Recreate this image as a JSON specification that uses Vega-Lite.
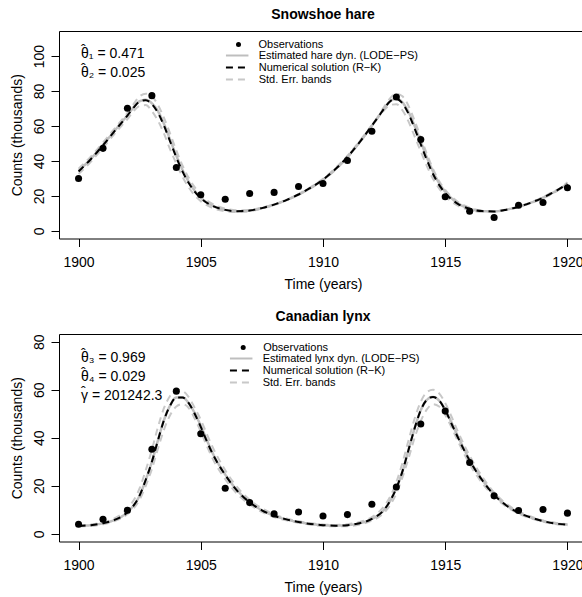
{
  "$schema": "https://vega.github.io/schema/vega-lite/v6.json",
  "padding": {"left": 9, "top": 7, "right": 0, "bottom": 0},
  "spacing": 95,
  "bounds": "flush",
  "config": {
    "font": "Liberation Sans",
    "view": {"stroke": "black", "strokeWidth": 1},
    "axis": {"domain": false, "grid": false, "tickColor": "black", "tickSize": 8, "labelColor": "black", "labelFontSize": 14, "titleFontSize": 14, "titleFontWeight": "normal", "titleColor": "black", "labelFlush": false, "labelOverlap": false},
    "axisX": {"labelBaseline": "middle", "labelPadding": 16, "titleBaseline": "middle", "titleY": 46},
    "axisY": {"labelAngle": 270, "labelAlign": "center", "labelBaseline": "middle", "labelPadding": 12, "titleAngle": 270, "titleBaseline": "middle", "titleX": -42},
    "title": {"fontSize": 14, "fontWeight": "bold", "color": "black", "frame": "group", "anchor": "middle", "offset": 9.5},
    "legend": {"orient": "none", "title": null, "labelFontSize": 11, "labelColor": "black", "labelLimit": 400, "rowPadding": 0, "padding": 0, "symbolStrokeWidth": 2},
    "text": {"font": "Liberation Sans", "fontSize": 14, "align": "left", "baseline": "alphabetic", "color": "black", "lineHeight": 3}
  },
  "resolve": {
    "scale": {"color": "independent", "strokeDash": "independent", "shape": "independent"},
    "legend": {"color": "independent", "strokeDash": "independent", "shape": "independent"}
  },
  "datasets": {
    "hareCurve": [
      {"t":1900,"est":34.3,"rk":34,"up":35.5,"lo":32.5},
      {"t":1900.5,"est":41.2,"rk":41,"up":42.5,"lo":39.5},
      {"t":1901,"est":49.2,"rk":49,"up":50.5,"lo":47.5},
      {"t":1901.5,"est":57.7,"rk":57.5,"up":59,"lo":56},
      {"t":1902,"est":66.2,"rk":66,"up":67.5,"lo":64},
      {"t":1902.25,"est":70.7,"rk":70.5,"up":72.5,"lo":68.5},
      {"t":1902.5,"est":74.2,"rk":74,"up":77,"lo":71.5},
      {"t":1902.75,"est":75,"rk":74.8,"up":78.5,"lo":72},
      {"t":1903,"est":73,"rk":72.5,"up":77,"lo":68.5},
      {"t":1903.25,"est":68.5,"rk":67.5,"up":72,"lo":63},
      {"t":1903.5,"est":61,"rk":60,"up":64.5,"lo":55.5},
      {"t":1903.75,"est":52,"rk":51,"up":55.5,"lo":46.5},
      {"t":1904,"est":43,"rk":42,"up":46,"lo":38.5},
      {"t":1904.25,"est":35,"rk":34,"up":37.5,"lo":31},
      {"t":1904.5,"est":28.3,"rk":27.5,"up":30.5,"lo":25},
      {"t":1904.75,"est":23,"rk":22.5,"up":25,"lo":20.3},
      {"t":1905,"est":19,"rk":18.7,"up":20.5,"lo":17},
      {"t":1905.5,"est":14.3,"rk":14.2,"up":15.3,"lo":13},
      {"t":1906,"est":12,"rk":12,"up":12.7,"lo":11.2},
      {"t":1906.5,"est":11.2,"rk":11.2,"up":11.7,"lo":10.7},
      {"t":1907,"est":11.6,"rk":11.6,"up":12,"lo":11.2},
      {"t":1907.5,"est":13,"rk":13,"up":13.3,"lo":12.7},
      {"t":1908,"est":15,"rk":15,"up":15.2,"lo":14.8},
      {"t":1908.5,"est":17.6,"rk":17.6,"up":17.6,"lo":17.6},
      {"t":1909,"est":20.8,"rk":20.8,"up":20.6,"lo":21},
      {"t":1909.5,"est":24.7,"rk":24.7,"up":24.4,"lo":25},
      {"t":1910,"est":29.3,"rk":29.3,"up":29,"lo":29.8},
      {"t":1910.5,"est":35.2,"rk":35.2,"up":34.8,"lo":35.8},
      {"t":1911,"est":42.3,"rk":42.3,"up":42,"lo":43},
      {"t":1911.5,"est":50.8,"rk":50.8,"up":50.5,"lo":51.5},
      {"t":1912,"est":60.2,"rk":60.2,"up":60,"lo":60.5},
      {"t":1912.25,"est":65,"rk":65,"up":65.5,"lo":65},
      {"t":1912.5,"est":70,"rk":70,"up":71,"lo":69},
      {"t":1912.75,"est":74.2,"rk":74.2,"up":76,"lo":72},
      {"t":1913,"est":75.6,"rk":75.5,"up":78.5,"lo":72.5},
      {"t":1913.25,"est":73.5,"rk":73,"up":77,"lo":69},
      {"t":1913.5,"est":68,"rk":67,"up":71.5,"lo":62.5},
      {"t":1913.75,"est":60,"rk":58.5,"up":63,"lo":54},
      {"t":1914,"est":51,"rk":49.5,"up":53.5,"lo":45.5},
      {"t":1914.25,"est":42,"rk":40.5,"up":44,"lo":37},
      {"t":1914.5,"est":34,"rk":32.5,"up":35.5,"lo":29.8},
      {"t":1914.75,"est":27.3,"rk":26.3,"up":28.5,"lo":24.3},
      {"t":1915,"est":22.4,"rk":21.6,"up":23.5,"lo":20},
      {"t":1915.5,"est":15.9,"rk":15.6,"up":16.8,"lo":14.5},
      {"t":1916,"est":12.7,"rk":12.6,"up":13.2,"lo":12},
      {"t":1916.5,"est":11.3,"rk":11.3,"up":11.6,"lo":10.9},
      {"t":1917,"est":11.1,"rk":11.1,"up":11.2,"lo":10.9},
      {"t":1917.5,"est":12.1,"rk":12.1,"up":12,"lo":12.1},
      {"t":1918,"est":13.8,"rk":13.8,"up":13.6,"lo":13.9},
      {"t":1918.5,"est":16.1,"rk":16.1,"up":15.8,"lo":16.3},
      {"t":1919,"est":19,"rk":19,"up":18.6,"lo":19.3},
      {"t":1919.5,"est":22.6,"rk":22.6,"up":22.2,"lo":23},
      {"t":1920,"est":26.8,"rk":26.8,"up":27.8,"lo":25.5}
    ],
    "hareObs": [
      {"t":1900,"obs":30},{"t":1901,"obs":47.2},{"t":1902,"obs":70.2},{"t":1903,"obs":77.4},
      {"t":1904,"obs":36.3},{"t":1905,"obs":20.6},{"t":1906,"obs":18.1},{"t":1907,"obs":21.4},
      {"t":1908,"obs":22},{"t":1909,"obs":25.4},{"t":1910,"obs":27.1},{"t":1911,"obs":40.3},
      {"t":1912,"obs":57},{"t":1913,"obs":76.6},{"t":1914,"obs":52.3},{"t":1915,"obs":19.5},
      {"t":1916,"obs":11.2},{"t":1917,"obs":7.6},{"t":1918,"obs":14.6},{"t":1919,"obs":16.2},
      {"t":1920,"obs":24.7}
    ],
    "lynxCurve": [
      {"t":1900,"est":3.3,"rk":3.3,"up":3.5,"lo":3.1},
      {"t":1900.5,"est":3.6,"rk":3.6,"up":3.9,"lo":3.3},
      {"t":1901,"est":4.4,"rk":4.4,"up":4.8,"lo":4},
      {"t":1901.5,"est":5.9,"rk":5.9,"up":6.6,"lo":5.4},
      {"t":1902,"est":9,"rk":9,"up":10.5,"lo":8.2},
      {"t":1902.5,"est":16,"rk":16,"up":19,"lo":14.3},
      {"t":1902.75,"est":22.5,"rk":22.5,"up":26.5,"lo":20},
      {"t":1903,"est":30,"rk":30,"up":35,"lo":27},
      {"t":1903.25,"est":39,"rk":39,"up":44.5,"lo":35.5},
      {"t":1903.5,"est":47.5,"rk":47.5,"up":52.5,"lo":43.5},
      {"t":1903.75,"est":53.5,"rk":53.5,"up":57.5,"lo":49.5},
      {"t":1904,"est":56.8,"rk":56.8,"up":60,"lo":53},
      {"t":1904.25,"est":56.8,"rk":56.8,"up":59.5,"lo":54},
      {"t":1904.5,"est":54.5,"rk":54.5,"up":57,"lo":52.5},
      {"t":1904.75,"est":50.3,"rk":50,"up":52.5,"lo":48},
      {"t":1905,"est":45,"rk":44.5,"up":47.5,"lo":42.5},
      {"t":1905.25,"est":39,"rk":38.5,"up":41.5,"lo":36.5},
      {"t":1905.5,"est":33.3,"rk":33,"up":35.8,"lo":31},
      {"t":1906,"est":24.7,"rk":24.5,"up":26.5,"lo":22.8},
      {"t":1906.5,"est":18,"rk":17.8,"up":19.3,"lo":16.5},
      {"t":1907,"est":13.2,"rk":13.1,"up":14.2,"lo":12.2},
      {"t":1907.5,"est":9.8,"rk":9.8,"up":10.6,"lo":9.1},
      {"t":1908,"est":7.5,"rk":7.5,"up":8.1,"lo":7},
      {"t":1908.5,"est":6,"rk":6,"up":6.4,"lo":5.6},
      {"t":1909,"est":4.9,"rk":4.9,"up":5.2,"lo":4.6},
      {"t":1909.5,"est":4.1,"rk":4.1,"up":4.4,"lo":3.8},
      {"t":1910,"est":3.6,"rk":3.6,"up":3.9,"lo":3.3},
      {"t":1910.5,"est":3.4,"rk":3.4,"up":3.7,"lo":3.1},
      {"t":1911,"est":3.6,"rk":3.6,"up":4,"lo":3.2},
      {"t":1911.5,"est":4.4,"rk":4.4,"up":4.9,"lo":3.9},
      {"t":1912,"est":6.2,"rk":6.2,"up":7,"lo":5.5},
      {"t":1912.5,"est":10,"rk":10,"up":11.5,"lo":8.8},
      {"t":1912.75,"est":13.8,"rk":13.8,"up":15.5,"lo":12},
      {"t":1913,"est":19,"rk":19,"up":21.5,"lo":16.8},
      {"t":1913.25,"est":26,"rk":26,"up":29.5,"lo":23.5},
      {"t":1913.5,"est":35,"rk":35,"up":39,"lo":31.5},
      {"t":1913.75,"est":44,"rk":44,"up":48,"lo":40},
      {"t":1914,"est":51.5,"rk":51.5,"up":55,"lo":47},
      {"t":1914.25,"est":55.8,"rk":55.8,"up":59,"lo":51.8},
      {"t":1914.5,"est":57,"rk":57,"up":60,"lo":54},
      {"t":1914.75,"est":55.5,"rk":55.5,"up":58.5,"lo":53},
      {"t":1915,"est":51.8,"rk":51.5,"up":54.5,"lo":49.5},
      {"t":1915.25,"est":46.5,"rk":46,"up":49,"lo":44.5},
      {"t":1915.5,"est":41,"rk":40.5,"up":43,"lo":39},
      {"t":1916,"est":30.8,"rk":30.5,"up":32.5,"lo":29},
      {"t":1916.5,"est":22.7,"rk":22.5,"up":24,"lo":21.3},
      {"t":1917,"est":16.3,"rk":16.2,"up":17.2,"lo":15.5},
      {"t":1917.5,"est":11.9,"rk":11.8,"up":12.5,"lo":11.3},
      {"t":1918,"est":8.8,"rk":8.8,"up":9.3,"lo":8.4},
      {"t":1918.5,"est":6.8,"rk":6.8,"up":7.2,"lo":6.5},
      {"t":1919,"est":5.3,"rk":5.3,"up":5.6,"lo":5},
      {"t":1919.5,"est":4.3,"rk":4.3,"up":4.6,"lo":4.1},
      {"t":1920,"est":3.8,"rk":3.8,"up":4,"lo":3.6}
    ],
    "lynxObs": [
      {"t":1900,"obs":4},{"t":1901,"obs":6.1},{"t":1902,"obs":9.8},{"t":1903,"obs":35.2},
      {"t":1904,"obs":59.4},{"t":1905,"obs":41.7},{"t":1906,"obs":19},{"t":1907,"obs":13},
      {"t":1908,"obs":8.3},{"t":1909,"obs":9.1},{"t":1910,"obs":7.4},{"t":1911,"obs":8},
      {"t":1912,"obs":12.3},{"t":1913,"obs":19.5},{"t":1914,"obs":45.7},{"t":1915,"obs":51.1},
      {"t":1916,"obs":29.7},{"t":1917,"obs":15.8},{"t":1918,"obs":9.7},{"t":1919,"obs":10.1},
      {"t":1920,"obs":8.6}
    ]
  },
  "vconcat": [
    {
      "width": 528,
      "height": 207.5,
      "title": "Snowshoe hare",
      "layer": [
        {
          "data": {"name": "hareCurve"},
          "transform": [{"fold": ["up", "lo"], "as": ["k", "v"]}],
          "mark": {"type": "line", "strokeWidth": 2, "interpolate": "monotone", "clip": true},
          "encoding": {
            "x": {"field": "t", "type": "quantitative", "scale": {"domain": [1899.2, 1920.8], "nice": false, "zero": false}, "axis": {"values": [1900, 1905, 1910, 1915, 1920], "format": "d", "title": "Time (years)"}},
            "y": {"field": "v", "type": "quantitative", "scale": {"domain": [-4.4, 114.4], "nice": false, "zero": false}, "axis": {"values": [0, 20, 40, 60, 80, 100], "title": "Counts (thousands)"}},
            "color": {"field": "k", "type": "nominal",
              "scale": {"domain": ["est", "rk", "up", "lo"], "range": ["#BEBEBE", "black", "#C8C8C8", "#C8C8C8"]},
              "legend": {"values": ["est", "rk", "up"], "legendX": 172.7, "legendY": 19, "symbolSize": 81, "symbolType": "M-2.5,0L2.5,0", "labelOffset": 16,
                "labelExpr": "datum.value === 'est' ? 'Estimated hare dyn. (LODE\u2212PS)' : datum.value === 'rk' ? 'Numerical solution (R\u2212K)' : 'Std. Err. bands'"}},
            "strokeDash": {"field": "k", "type": "nominal",
              "scale": {"domain": ["est", "rk", "up", "lo"], "range": [[1, 0], [7, 5], [7, 5], [7, 5]]},
              "legend": {"values": ["est", "rk", "up"], "legendX": 172.7, "legendY": 19, "symbolSize": 81, "symbolType": "M-2.5,0L2.5,0", "labelOffset": 16,
                "labelExpr": "datum.value === 'est' ? 'Estimated hare dyn. (LODE\u2212PS)' : datum.value === 'rk' ? 'Numerical solution (R\u2212K)' : 'Std. Err. bands'"}}
          }
        },
        {
          "data": {"name": "hareCurve"},
          "transform": [{"fold": ["est"], "as": ["k", "v"]}],
          "mark": {"type": "line", "strokeWidth": 2.5, "interpolate": "monotone", "clip": true},
          "encoding": {"x": {"field": "t", "type": "quantitative"}, "y": {"field": "v", "type": "quantitative"}, "color": {"field": "k", "type": "nominal"}, "strokeDash": {"field": "k", "type": "nominal"}}
        },
        {
          "data": {"name": "hareCurve"},
          "transform": [{"fold": ["rk"], "as": ["k", "v"]}],
          "mark": {"type": "line", "strokeWidth": 2, "interpolate": "monotone", "clip": true},
          "encoding": {"x": {"field": "t", "type": "quantitative"}, "y": {"field": "v", "type": "quantitative"}, "color": {"field": "k", "type": "nominal"}, "strokeDash": {"field": "k", "type": "nominal"}}
        },
        {
          "data": {"name": "hareObs"},
          "transform": [{"fold": ["obs"], "as": ["k", "v"]}],
          "mark": {"type": "point", "filled": true, "size": 50, "opacity": 1, "color": "black"},
          "encoding": {
            "x": {"field": "t", "type": "quantitative"}, "y": {"field": "v", "type": "quantitative"},
            "shape": {"field": "k", "type": "nominal", "scale": {"domain": ["obs"], "range": ["circle"]},
              "legend": {"legendX": 174, "legendY": 8, "symbolSize": 25, "labelOffset": 14.5, "labelExpr": "'Observations'"}}
          }
        },
        {
          "data": {"values": [{"note": ["\u200a\u02c6", "\u03b8\u2081 = 0.471"]}]},
          "mark": {"type": "text"},
          "encoding": {
            "x": {"datum": 1900.1, "type": "quantitative"},
            "y": {"datum": 100.7, "type": "quantitative"},
            "text": {"field": "note"}
          }
        },
        {
          "data": {"values": [{"note": ["\u200a\u02c6", "\u03b8\u2082 = 0.025"]}]},
          "mark": {"type": "text"},
          "encoding": {
            "x": {"datum": 1900.1, "type": "quantitative"},
            "y": {"datum": 89.5, "type": "quantitative"},
            "text": {"field": "note"}
          }
        }
      ]
    },
    {
      "width": 528,
      "height": 207.5,
      "title": "Canadian lynx",
      "layer": [
        {
          "data": {"name": "lynxCurve"},
          "transform": [{"fold": ["up", "lo"], "as": ["k", "v"]}],
          "mark": {"type": "line", "strokeWidth": 2, "interpolate": "monotone", "clip": true},
          "encoding": {
            "x": {"field": "t", "type": "quantitative", "scale": {"domain": [1899.2, 1920.8], "nice": false, "zero": false}, "axis": {"values": [1900, 1905, 1910, 1915, 1920], "format": "d", "title": "Time (years)"}},
            "y": {"field": "v", "type": "quantitative", "scale": {"domain": [-3.2, 83.2], "nice": false, "zero": false}, "axis": {"values": [0, 20, 40, 60, 80], "title": "Counts (thousands)"}},
            "color": {"field": "k", "type": "nominal",
              "scale": {"domain": ["est", "rk", "up", "lo"], "range": ["#BEBEBE", "black", "#C8C8C8", "#C8C8C8"]},
              "legend": {"values": ["est", "rk", "up"], "legendX": 176.7, "legendY": 19, "symbolSize": 81, "symbolType": "M-2.5,0L2.5,0", "labelOffset": 16,
                "labelExpr": "datum.value === 'est' ? 'Estimated lynx dyn. (LODE\u2212PS)' : datum.value === 'rk' ? 'Numerical solution (R\u2212K)' : 'Std. Err. bands'"}},
            "strokeDash": {"field": "k", "type": "nominal",
              "scale": {"domain": ["est", "rk", "up", "lo"], "range": [[1, 0], [7, 5], [7, 5], [7, 5]]},
              "legend": {"values": ["est", "rk", "up"], "legendX": 176.7, "legendY": 19, "symbolSize": 81, "symbolType": "M-2.5,0L2.5,0", "labelOffset": 16,
                "labelExpr": "datum.value === 'est' ? 'Estimated lynx dyn. (LODE\u2212PS)' : datum.value === 'rk' ? 'Numerical solution (R\u2212K)' : 'Std. Err. bands'"}}
          }
        },
        {
          "data": {"name": "lynxCurve"},
          "transform": [{"fold": ["est"], "as": ["k", "v"]}],
          "mark": {"type": "line", "strokeWidth": 2.5, "interpolate": "monotone", "clip": true},
          "encoding": {"x": {"field": "t", "type": "quantitative"}, "y": {"field": "v", "type": "quantitative"}, "color": {"field": "k", "type": "nominal"}, "strokeDash": {"field": "k", "type": "nominal"}}
        },
        {
          "data": {"name": "lynxCurve"},
          "transform": [{"fold": ["rk"], "as": ["k", "v"]}],
          "mark": {"type": "line", "strokeWidth": 2, "interpolate": "monotone", "clip": true},
          "encoding": {"x": {"field": "t", "type": "quantitative"}, "y": {"field": "v", "type": "quantitative"}, "color": {"field": "k", "type": "nominal"}, "strokeDash": {"field": "k", "type": "nominal"}}
        },
        {
          "data": {"name": "lynxObs"},
          "transform": [{"fold": ["obs"], "as": ["k", "v"]}],
          "mark": {"type": "point", "filled": true, "size": 50, "opacity": 1, "color": "black"},
          "encoding": {
            "x": {"field": "t", "type": "quantitative"}, "y": {"field": "v", "type": "quantitative"},
            "shape": {"field": "k", "type": "nominal", "scale": {"domain": ["obs"], "range": ["circle"]},
              "legend": {"legendX": 178.7, "legendY": 8, "symbolSize": 25, "labelOffset": 14.5, "labelExpr": "'Observations'"}}
          }
        },
        {
          "data": {"values": [{"note": ["\u200a\u02c6", "\u03b8\u2083 = 0.969"]}]},
          "mark": {"type": "text"},
          "encoding": {
            "x": {"datum": 1900.1, "type": "quantitative"},
            "y": {"datum": 72.85, "type": "quantitative"},
            "text": {"field": "note"}
          }
        },
        {
          "data": {"values": [{"note": ["\u200a\u02c6", "\u03b8\u2084 = 0.029"]}]},
          "mark": {"type": "text"},
          "encoding": {
            "x": {"datum": 1900.1, "type": "quantitative"},
            "y": {"datum": 64.95, "type": "quantitative"},
            "text": {"field": "note"}
          }
        },
        {
          "data": {"values": [{"note": ["\u200a\u02c6", "\u03b3 = 201242.3"]}]},
          "mark": {"type": "text"},
          "encoding": {
            "x": {"datum": 1900.1, "type": "quantitative"},
            "y": {"datum": 57.15, "type": "quantitative"},
            "text": {"field": "note"}
          }
        }
      ]
    }
  ]
}
